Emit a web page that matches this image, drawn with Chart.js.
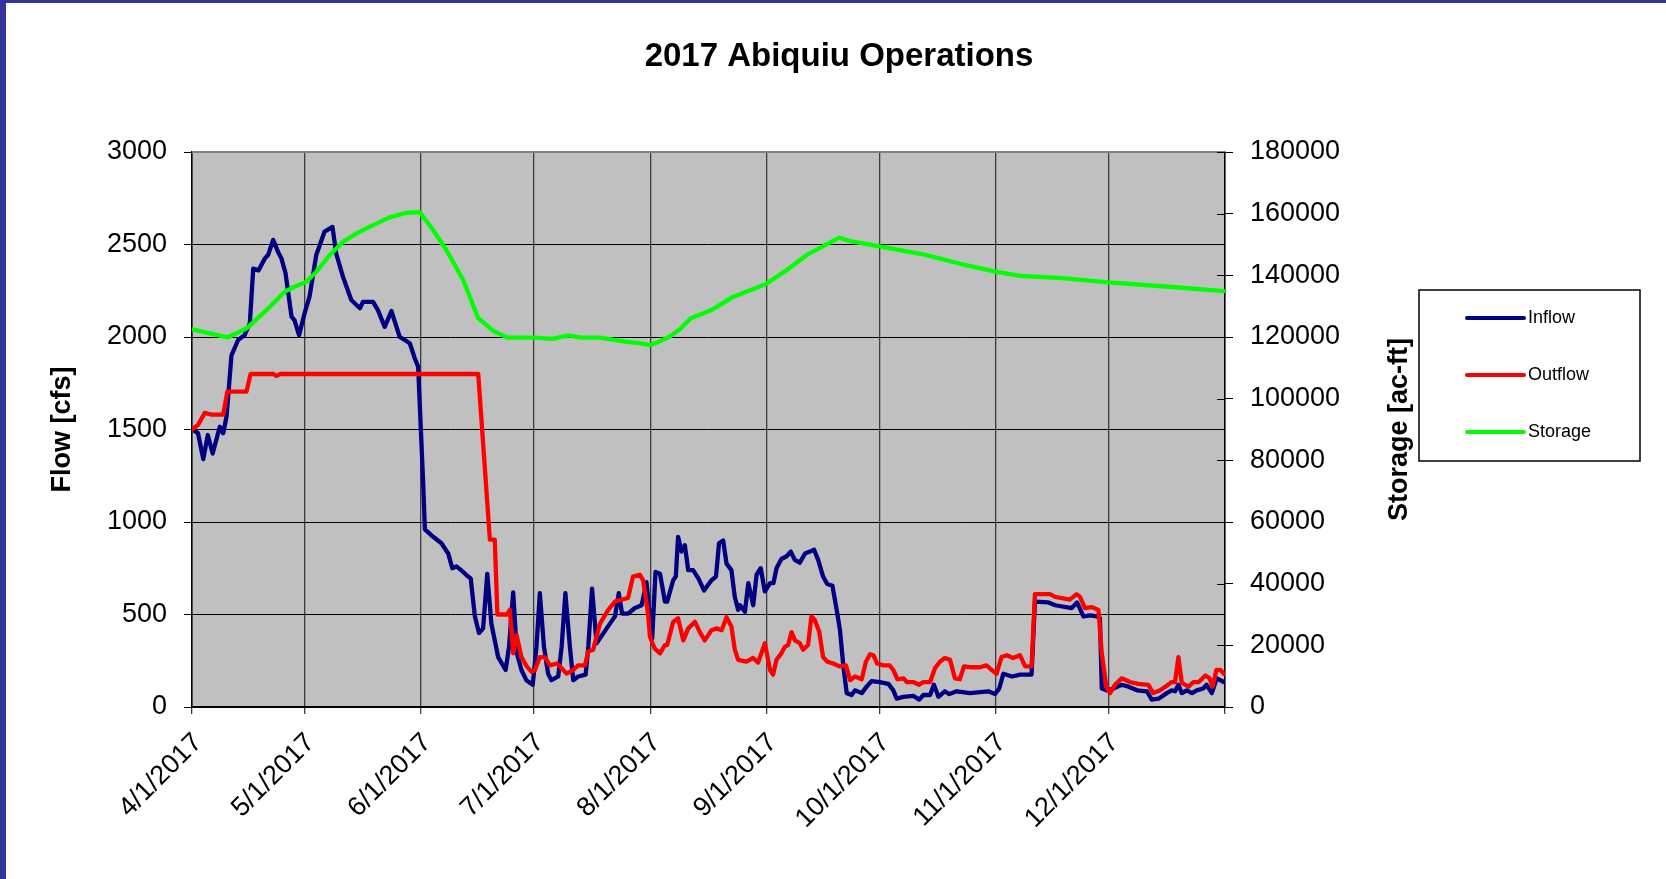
<!DOCTYPE html>
<html>
<head>
<meta charset="utf-8">
<title>2017 Abiquiu Operations</title>
<script src="https://cdn.jsdelivr.net/npm/chart.js@4.4.1/dist/chart.umd.min.js"></script>
<style>
  html, body { margin: 0; padding: 0; background: #fff; overflow: hidden; }
  canvas { display: block; }
</style>
</head>
<body>
<canvas id="opsChart" width="1666" height="879"></canvas>
<script>
// ═══════════════════════════════════════════════════
//  DATA  (x = days since 4/1/2017)
// ═══════════════════════════════════════════════════
const monthDays   = [0, 30, 61, 91, 122, 153, 183, 214, 244, 275];
const monthLabels = ['4/1/2017','5/1/2017','6/1/2017','7/1/2017','8/1/2017',
                     '9/1/2017','10/1/2017','11/1/2017','12/1/2017',''];

const inflowDay = [
  0,1.6,3,4.2,5.5,7.4,8.3,9.2,10.5,12.3,14,15.4,16.3,17.7,19.4,20.3,21.6,22.9,23.8,24.9,
  26.5,27.3,28.5,30,31.3,33.1,35.3,37.4,38.4,40.2,42.4,44.7,45.5,48.2,49.5,51.3,53.1,55.3,56.6,58,
  59.3,60.2,61.5,62,64.2,66.4,68.2,69.3,70.4,72.2,73.5,74.2,75.3,76.4,77.5,78.6,79.7,81.5,83.5,84.4,
  85.5,86.5,87.7,89,90.7,91.7,92.6,93.7,94.8,95.7,97.5,98.4,99.4,100.6,101.5,102.8,104.8,105.5,106.5,107.7,
  110.4,112.6,113.6,114.5,116.1,117.9,119.7,121,122.5,123.4,124.6,125.9,126.5,128.1,128.8,129.4,130.3,131.2,132.1,133.4,
  134.8,136.3,138.3,139.5,140.3,141.4,142.3,143.6,144.5,145.4,145.9,147.2,148.1,149.4,150.3,151.4,152.5,153.9,154.8,155.6,
  156.9,158.3,159.4,160.5,161.8,163.2,164.5,165.6,166.7,168,169.1,170.5,171.8,172.5,173.4,174.3,175.6,176.5,178.3,179.6,
  180.9,183.1,185.4,186.7,187.6,189.4,192,193.6,194.7,196.5,197.5,198.7,200.4,201.6,203.6,207.1,209.8,212,213.8,214.9,
  216,218.3,220.5,223.5,224.4,228,229.8,234.2,235.6,237.3,239.1,240.9,241.7,242.2,243.6,245.3,247.5,249.3,251.6,254.2,
  255.5,257.3,259.5,260.8,261.7,262.6,263.5,264.8,266.2,267.5,269.2,270.1,271.5,272.8,274.7
];
const inflowCfs = [
  1500,1480,1340,1470,1370,1515,1480,1570,1900,1985,2010,2075,2370,2360,2425,2445,2525,2460,2425,2345,
  2110,2090,2010,2130,2220,2445,2570,2595,2450,2325,2200,2155,2190,2190,2145,2055,2140,2000,1985,1965,
  1885,1840,1230,960,920,885,830,750,760,730,705,695,490,400,425,720,450,270,200,325,
  620,290,200,145,120,325,615,325,180,145,165,325,615,325,145,165,175,325,640,345,
  425,490,615,505,505,535,550,675,370,730,720,570,570,685,705,920,840,875,740,740,
  695,630,685,705,885,900,775,740,595,525,550,515,670,550,715,750,625,670,670,750,
  800,815,840,795,780,830,840,850,795,705,665,655,505,415,220,75,65,90,75,110,
  140,135,125,90,45,55,60,40,65,65,120,55,85,70,85,75,80,85,70,100,
  180,165,175,175,570,565,550,535,565,490,495,490,480,100,90,100,120,110,90,85,
  40,45,75,90,85,120,75,90,75,90,100,120,75,155,135
];

const outflowDay = [
  0,1.6,3.4,5.2,8.3,9.4,14.5,15.6,21.7,22.5,23.5,76.2,79.3,80.6,81.3,83.9,84.6,85.5,86.4,87.7,
  89.1,90.4,91.3,92.6,93.9,95.3,97.1,98.4,99.7,101.5,102.8,104.6,105.5,106.8,108.6,110.8,112.6,114.4,116.1,117.4,
  119.2,120.1,121.4,121.9,123.2,124.6,125.9,126.5,128.1,129.4,130.8,132.1,133.9,135.2,136.5,138.3,139.7,141,142.3,143.6,
  144.5,145.4,147.6,149.4,150.7,152.5,153.9,154.7,155.6,156.9,157.8,158.7,159.6,160.5,161.8,162.7,164,164.9,165.8,167,
  168,169.1,170.7,172.3,174.1,175.2,176.5,178.3,179.4,180.5,181.4,182.4,184.1,185.7,186.7,187.8,189.4,190.3,192,193.6,
  194.7,196.5,197.8,199.1,200.4,201.8,203.1,204.4,205.5,207.1,209.8,211.5,212.9,214.2,215.5,216.9,218.6,220.4,221.8,223.5,
  224.4,228.4,229.8,233.7,235.5,236.4,237.7,239.5,241.3,242.2,243.4,244.4,245.7,247.5,249.7,251.9,254.6,255.9,257.7,259.5,
  260.8,261.7,262.6,263.5,265.3,266.6,268,269.8,270.9,271.7,272.7,273.8,274.7
];
const outflowCfs = [
  1500,1525,1590,1580,1580,1705,1705,1800,1800,1790,1800,1800,905,905,500,500,525,290,390,270,
  220,190,200,270,270,225,235,210,180,200,225,225,300,310,450,525,570,580,590,705,
  715,685,505,380,315,290,335,335,460,480,360,425,460,405,360,415,425,415,485,435,
  310,255,245,265,240,345,200,175,255,290,325,335,405,360,345,310,335,490,470,405,
  270,245,235,220,225,145,165,150,245,285,280,235,225,225,200,150,155,135,135,120,
  135,135,210,245,265,255,155,150,220,215,215,225,200,180,270,280,265,280,220,220,
  610,610,595,580,610,595,535,540,525,290,110,75,120,155,135,125,120,75,90,115,
  135,135,270,130,110,135,135,170,155,110,200,200,180
];

const storageDay = [
  0,4.7,9.6,14.5,19.4,24.7,27.3,30.5,33.1,36.7,40.2,43.8,48.2,52.6,57.1,60.6,64.2,67.7,72.2,76.2,
  80.3,84,87.4,91.1,95.9,100.2,103.6,108.7,112.3,115.7,118.6,122,124.2,127.1,129.9,132.7,138.4,144,152.5,158.1,
  163.8,172.3,175.2,183.1,195,206.3,213.9,220.4,231.7,243.9,260.1,274.7
];
const storageAf = [
  122500,121200,119900,122800,128200,134700,136300,137900,141200,146600,150900,153600,156300,158800,160300,160500,154700,148200,138500,126100,
  121900,119800,119800,119800,119400,120500,119800,119800,119100,118400,118100,117400,118400,120100,122500,126000,128800,133000,137000,141500,
  146700,152200,151100,149400,146700,143200,141200,139800,139100,137700,136300,134900
];

// ─── Look ────────────────────────────────────────────
const FONT     = '"Liberation Sans", Arial, Helvetica, sans-serif';
const PLOT_BG  = '#C0C0C0';
const FRAME    = '#333399';
const INFLOW   = '#000080';
const OUTFLOW  = '#FF0000';
const STORAGE  = '#00FF00';

Chart.defaults.font.family = FONT;
Chart.defaults.color = '#000';

const pts = (xs, ys) => xs.map((x, i) => ({ x, y: ys[i] }));
const plain = v => String(v);   // no thousands separators on the axes

// plot background, window frame, storage axis title and the boxed legend
const chrome = {
  id: 'chrome',
  beforeDraw(chart) {
    const { ctx, chartArea: a } = chart;
    ctx.save();
    ctx.fillStyle = '#fff';
    ctx.fillRect(0, 0, chart.width, chart.height);
    ctx.fillStyle = PLOT_BG;
    ctx.fillRect(a.left, a.top, a.width, a.height);
    ctx.restore();
  },
  afterDraw(chart) {
    const { ctx, chartArea: a } = chart;
    ctx.save();

    ctx.strokeStyle = '#808080';
    ctx.lineWidth = 2;
    ctx.beginPath(); ctx.moveTo(a.left, a.top); ctx.lineTo(a.right, a.top); ctx.stroke();

    // storage ticks cross the axis line
    const s = chart.scales.y2;
    ctx.strokeStyle = '#000';
    ctx.lineWidth = 1;
    s.ticks.forEach(t => {
      const y = Math.round(s.getPixelForValue(t.value)) + 0.5;
      ctx.beginPath(); ctx.moveTo(a.right - 8, y); ctx.lineTo(a.right, y); ctx.stroke();
    });

    ctx.fillStyle = FRAME;
    ctx.fillRect(0, 0, 6, chart.height);
    ctx.fillRect(0, 0, chart.width, 3);

    ctx.save();
    ctx.translate(1400, (a.top + a.bottom) / 2);
    ctx.rotate(-Math.PI / 2);
    ctx.font = `bold 27px ${FONT}`;
    ctx.fillStyle = '#000';
    ctx.textAlign = 'center';
    ctx.textBaseline = 'middle';
    ctx.fillText('Storage [ac-ft]', 0, 0);
    ctx.restore();

    // legend box
    const bx = 1419, by = 290, bw = 221, bh = 171;
    ctx.fillStyle = '#fff';
    ctx.fillRect(bx, by, bw, bh);
    ctx.strokeStyle = '#000';
    ctx.lineWidth = 1.5;
    ctx.strokeRect(bx, by, bw, bh);
    ctx.font = `18px ${FONT}`;
    ctx.textAlign = 'left';
    ctx.textBaseline = 'middle';
    chart.data.datasets.forEach((ds, i) => {
      const y = 318 + i * 57;
      ctx.strokeStyle = ds.borderColor;
      ctx.lineWidth = 4;
      ctx.lineCap = 'round';
      ctx.beginPath(); ctx.moveTo(1467, y); ctx.lineTo(1524, y); ctx.stroke();
      ctx.fillStyle = '#000';
      ctx.fillText(ds.label, 1528, y);
    });
    ctx.restore();
  },
};

const line = (label, data, color, axis, order) => ({
  label, data, yAxisID: axis, order,
  borderColor: color, backgroundColor: color,
  borderWidth: 4.3, pointRadius: 0, tension: 0,
  borderJoinStyle: 'round', borderCapStyle: 'round',
});

new Chart(document.getElementById('opsChart'), {
  type: 'line',
  data: {
    datasets: [
      line('Inflow',  pts(inflowDay, inflowCfs),   INFLOW,  'y',  3),
      line('Outflow', pts(outflowDay, outflowCfs), OUTFLOW, 'y',  2),
      line('Storage', pts(storageDay, storageAf),  STORAGE, 'y2', 1),
    ],
  },
  options: {
    responsive: false,
    devicePixelRatio: 1,
    animation: false,
    layout: { padding: { left: 12 } },
    plugins: {
      legend: { display: false },
      tooltip: { enabled: false },
      title: {
        display: true,
        text: '2017 Abiquiu Operations',
        color: '#000',
        font: { size: 33, weight: 'bold' },
        padding: { top: 37, bottom: 75.4 },
      },
    },
    scales: {
      x: {
        type: 'linear', min: 0, max: 275,
        afterBuildTicks: s => { s.ticks = monthDays.map(v => ({ value: v })); },
        afterFit: s => { s.height = 172; },
        ticks: {
          autoSkip: false, minRotation: 45, maxRotation: 45,
          padding: 13, labelOffset: 6,
          font: { size: 27 },
          callback: (v, i) => monthLabels[i],
        },
        grid: { color: '#3c3c3c', lineWidth: 1.3, tickLength: 7 },
        border: { color: '#000', width: 1.5 },
      },
      y: {
        position: 'left', min: 0, max: 3000,
        afterFit: s => { s.width = 180; },
        ticks: { stepSize: 500, padding: 17, font: { size: 27 }, callback: plain },
        grid: { color: '#000', lineWidth: 1, tickLength: 8 },
        border: { color: '#000', width: 1.5 },
        title: {
          display: true, text: 'Flow [cfs]',
          font: { size: 27, weight: 'bold' },
          padding: { top: 34, bottom: 0 },
        },
      },
      y2: {
        position: 'right', min: 0, max: 180000,
        afterFit: s => { s.width = 441; },
        ticks: { stepSize: 20000, padding: 17, font: { size: 27 }, callback: plain },
        grid: { drawOnChartArea: false, color: '#000', tickLength: 8 },
        border: { color: '#000', width: 1.5 },
      },
    },
  },
  plugins: [chrome],
});
</script>
</body>
</html>
